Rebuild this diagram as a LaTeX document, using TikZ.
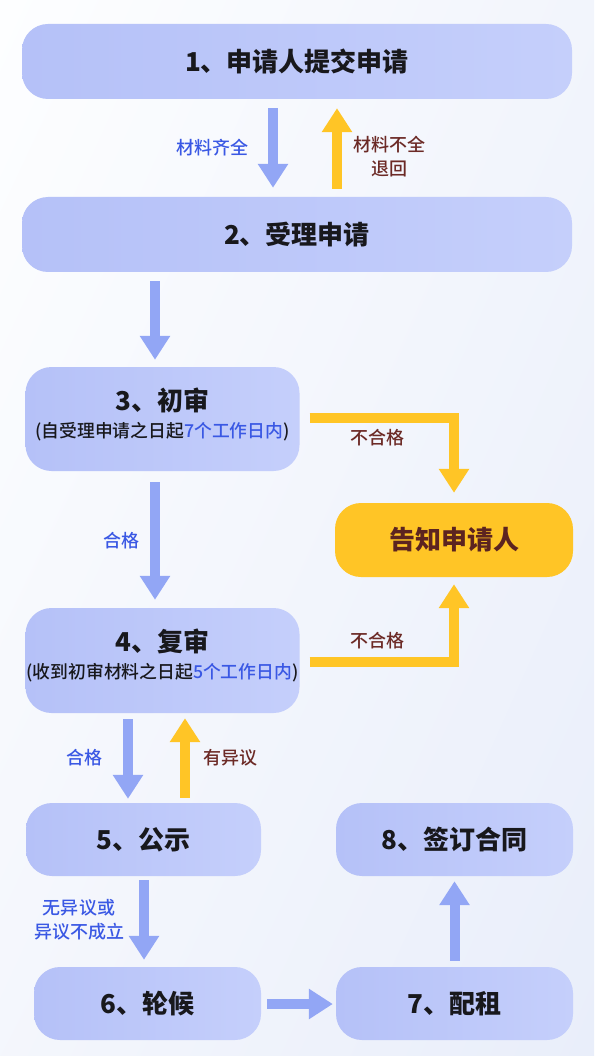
\documentclass[tikz,border=0pt]{standalone}
\usepackage{fontspec}
\setmainfont{Noto Sans CJK SC}
\newfontfamily\medfont{Noto Sans CJK SC Medium}
\usetikzlibrary{shadings}
\usetikzlibrary{arrows.meta}
\definecolor{BoxL}{RGB}{181,193,248}
\definecolor{BoxR}{RGB}{197,207,251}
\definecolor{ArrBlue}{RGB}{146,166,245}
\definecolor{ArrYellow}{RGB}{255,197,38}
\definecolor{TxtBlue}{RGB}{58,88,228}
\definecolor{TxtBrown}{RGB}{108,42,38}
\definecolor{TxtDark}{RGB}{24,24,28}
\definecolor{BgA}{RGB}{253,254,255}
\definecolor{BgB}{RGB}{233,238,250}

\begin{document}
\begin{tikzpicture}[x=1pt,y=-1pt,
    stepbox/.style={rounded corners=26pt,left color=BoxL,right color=BoxR,
        inner sep=0pt,align=center,text=TxtDark,
        font=\fontsize{26}{30}\selectfont\bfseries},
    tellbox/.style={rounded corners=26pt,fill=ArrYellow,inner sep=0pt,
        text=TxtBrown!85!black,font=\fontsize{26}{30}\selectfont\bfseries},
    barrow/.style={draw=ArrBlue,line width=10pt,-{Triangle[width=29pt,length=24pt]}},
    yarrow/.style={draw=ArrYellow,line width=10pt,-{Triangle[width=29pt,length=24pt]}},
    oklabel/.style={text=TxtBlue,align=center,font=\medfont\fontsize{18}{24}\selectfont},
    nolabel/.style={text=TxtBrown,align=center,font=\medfont\fontsize{18}{24}\selectfont}]

    % background
    \shade[upper left=BgA,upper right=BgB!60!white,lower left=BgB!50!white,lower right=BgB]
        (0,0) rectangle (594,1056);
    \useasboundingbox (0,0) rectangle (594,1056);

    % steps
    \node[stepbox,minimum width=550pt,minimum height=75pt] (n1) at (297,61.5) {1、申请人提交申请};
    \node[stepbox,minimum width=550pt,minimum height=75pt] (n2) at (297,234.5) {2、受理申请};
    \node[stepbox,minimum width=274pt,minimum height=104pt,text depth=13pt] (n3) at (162.5,419)
        {3、初审\\[-3pt]{\medfont\mdseries\fontsize{17.8}{20}\selectfont(自受理申请之日起\textcolor{TxtBlue}{7个工作日内})}};
    \node[stepbox,minimum width=274pt,minimum height=105pt,text depth=13pt] (n4) at (162.5,660.5)
        {4、复审\\[-3pt]{\medfont\mdseries\fontsize{17.8}{20}\selectfont(收到初审材料之日起\textcolor{TxtBlue}{5个工作日内})}};
    \node[tellbox,minimum width=238pt,minimum height=74pt] (tell) at (454,540) {告知申请人};
    \node[stepbox,minimum width=235pt,minimum height=73pt] (n5) at (143.5,839.5) {5、公示};
    \node[stepbox,minimum width=227pt,minimum height=73pt] (n6) at (147.5,1003.5) {6、轮候};
    \node[stepbox,minimum width=237pt,minimum height=73pt] (n7) at (454.5,1003.5) {7、配租};
    \node[stepbox,minimum width=237pt,minimum height=73pt] (n8) at (454.5,839.5) {8、签订合同};

    % arrows
    \draw[barrow,shorten <=9pt,shorten >=9pt] ([xshift=-24pt]n1.south) -- ([xshift=-24pt]n2.north);
    \draw[yarrow,shorten <=8pt,shorten >=9pt] ([xshift=40pt]n2.north) -- ([xshift=40pt]n1.south);
    \draw[barrow,shorten <=9pt,shorten >=7pt] ([xshift=-142pt]n2.south) -- ([xshift=-7.5pt]n3.north);
    \draw[barrow,shorten <=11pt,shorten >=8pt] ([xshift=-7.5pt]n3.south) -- ([xshift=-7.5pt]n4.north);
    \draw[yarrow,shorten <=10pt,shorten >=10pt] ([yshift=1.5pt]n3.east) -| (tell.north);
    \draw[yarrow,shorten <=10pt,shorten >=7pt] ([yshift=-1.5pt]n4.east) -| (tell.south);
    \draw[barrow,shorten <=6pt,shorten >=4pt] ([xshift=-34.5pt]n4.south) -- ([xshift=-15.5pt]n5.north);
    \draw[yarrow,shorten <=5pt,shorten >=5pt] ([xshift=41.5pt]n5.north) -- ([xshift=22.5pt]n4.south);
    \draw[barrow,shorten <=4pt,shorten >=7pt] ([xshift=0.5pt]n5.south) -- ([xshift=-3.5pt]n6.north);
    \draw[barrow,shorten <=6pt,shorten >=3pt] ([yshift=-0.5pt]n6.east) -- ([yshift=-0.5pt]n7.west);
    \draw[barrow,shorten <=6pt,shorten >=5pt] (n7.north) -- (n8.south);

    % labels
    \node[oklabel] (l12) at (212,148) {材料齐全};
    \node[nolabel] (l21) at (389,157) {材料不全\\退回};
    \node[nolabel] (l3t) at (377,438) {不合格};
    \node[oklabel] (l34) at (121,541) {合格};
    \node[nolabel] (l4t) at (377,641) {不合格};
    \node[oklabel] (l45) at (84,758) {合格};
    \node[nolabel] (l54) at (230,758) {有异议};
    \node[oklabel] (l56) at (79,920) {无异议或\\异议不成立};
\end{tikzpicture}
\end{document}
